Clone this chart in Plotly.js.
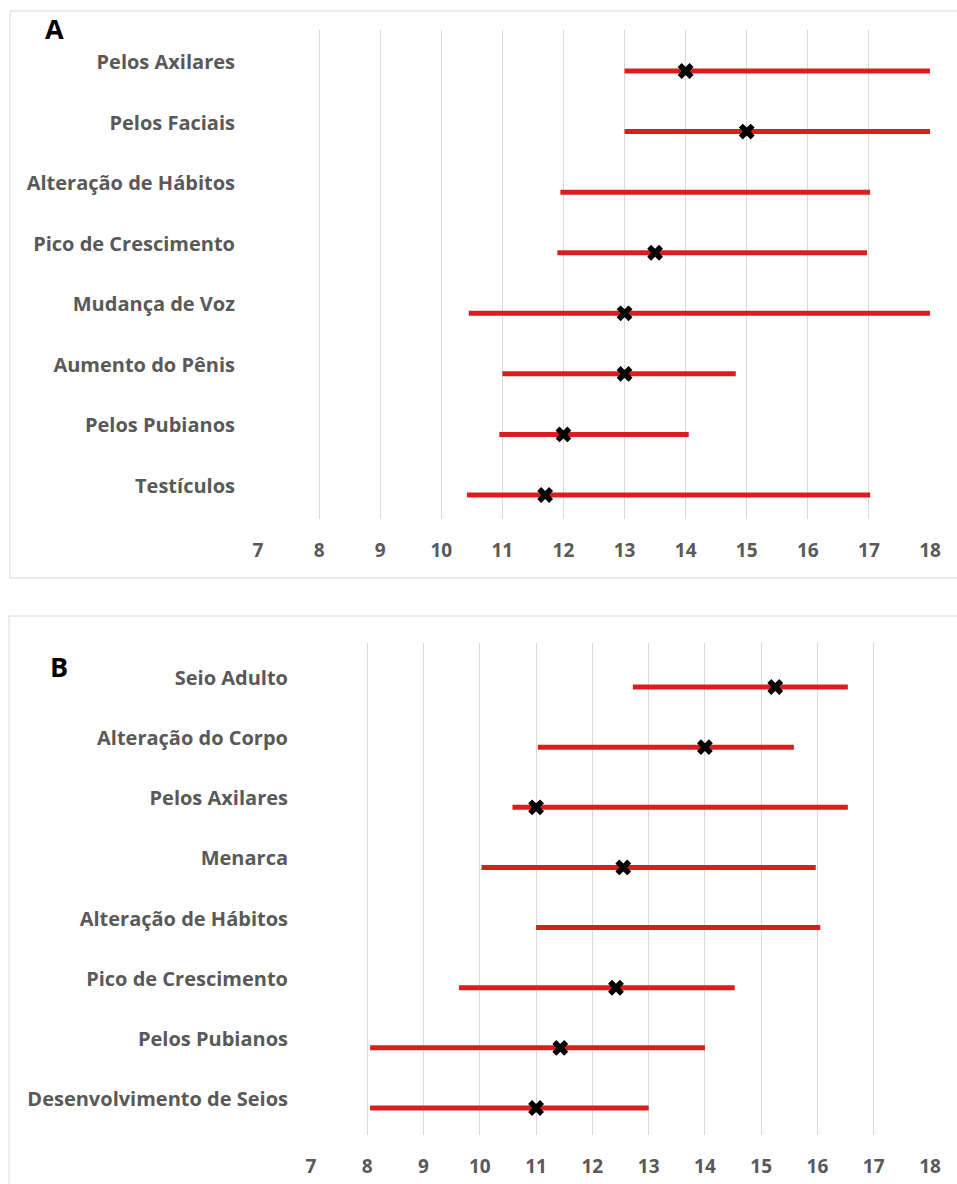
<!DOCTYPE html>
<html>
<head>
<meta charset="utf-8">
<script src="https://cdn.plot.ly/plotly-3.0.1.min.js"></script>
<style>html,body{margin:0;padding:0;background:#fff;}#chart{width:957px;height:1184px;}</style>
</head>
<body>
<div id="chart"></div>
<script>
// Panel A (boys)
var catsA = ['Pelos Axilares','Pelos Faciais','Alteração de Hábitos','Pico de Crescimento','Mudança de Voz','Aumento do Pênis','Pelos Pubianos','Testículos'];
var startA = [13.0, 13.0, 11.95, 11.9, 10.45, 11.0, 10.95, 10.42];
var endA   = [18.05, 18.05, 17.02, 16.97, 18.0, 14.82, 14.05, 17.02];
var markA  = [14.0, 15.0, null, 13.5, 13.0, 13.0, 12.0, 11.7];

// Panel B (girls)
var catsB = ['Seio Adulto','Alteração do Corpo','Pelos Axilares','Menarca','Alteração de Hábitos','Pico de Crescimento','Pelos Pubianos','Desenvolvimento de Seios'];
var startB = [12.72, 11.03, 10.58, 10.03, 11.0, 9.63, 8.05, 8.05];
var endB   = [16.54, 15.58, 16.54, 15.97, 16.05, 14.53, 14.0, 13.0];
var markB  = [15.25, 14.0, 11.0, 12.55, null, 12.42, 11.43, 11.0];

var ticksX = [7,8,9,10,11,12,13,14,15,16,17,18];

var RED = '#d81e1e';
var GRID = '#d9d9d9';
var LABEL = '#595959';
var FONT = 'Open Sans, Liberation Sans, sans-serif';

function segs(cats, s, e) {
  var xs = [], ys = [];
  for (var i = 0; i < cats.length; i++) {
    xs.push(s[i], e[i], null);
    ys.push(cats[i], cats[i], null);
  }
  return {x: xs, y: ys};
}
var sA = segs(catsA, startA, endA);
var sB = segs(catsB, startB, endB);

var traces = [
  {type:'scatter', mode:'lines', x:sA.x, y:sA.y, xaxis:'x', yaxis:'y',
   line:{color:RED, width:5}, hoverinfo:'skip', showlegend:false},
  {type:'scatter', mode:'markers', x:markA, y:catsA, xaxis:'x', yaxis:'y',
   marker:{symbol:'x', size:14, color:'#000', line:{width:0}}, showlegend:false},
  {type:'scatter', mode:'lines', x:sB.x, y:sB.y, xaxis:'x2', yaxis:'y2',
   line:{color:RED, width:5}, hoverinfo:'skip', showlegend:false},
  {type:'scatter', mode:'markers', x:markB, y:catsB, xaxis:'x2', yaxis:'y2',
   marker:{symbol:'x', size:14, color:'#000', line:{width:0}}, showlegend:false}
];

var W = 957, H = 1184;
function px(x){return x/W;}
function py(y){return 1 - y/H;}

var yFont = {family:FONT, size:20, color:LABEL, weight:'bold'};
var xFont = {family:FONT, size:19, color:LABEL, weight:'bold'};

var xCommon = {
  range:[7,18], tickvals:ticksX, ticktext:ticksX.map(String),
  showgrid:true, gridcolor:GRID, gridwidth:1, zeroline:false,
  showline:false, ticks:'', ticklabelstandoff:18, tickfont:xFont, fixedrange:true
};
var yCommon = {
  type:'category', showgrid:false, zeroline:false, showline:false, ticks:'',
  ticklabelstandoff:22, tickfont:yFont, ticklabelshift:9, fixedrange:true
};

var layout = {
  width:W, height:H,
  margin:{l:0, r:0, t:0, b:0},
  paper_bgcolor:'#fff', plot_bgcolor:'rgba(0,0,0,0)',
  showlegend:false,
  xaxis: Object.assign({}, xCommon, {domain:[px(258), px(930)], anchor:'y'}),
  yaxis: Object.assign({}, yCommon, {domain:[py(519), py(30)], anchor:'x',
          categoryorder:'array', categoryarray:catsA, range:[7.396, -0.677]}),
  xaxis2: Object.assign({}, xCommon, {domain:[px(311), px(930)], anchor:'y2'}),
  yaxis2: Object.assign({}, yCommon, {domain:[py(1135), py(643)], anchor:'x2',
          categoryorder:'array', categoryarray:catsB, range:[7.449, -0.732]}),
  shapes:[
    {type:'rect', xref:'paper', yref:'paper', x0:px(10), x1:1.01, y0:py(578), y1:py(11),
     line:{color:GRID, width:1}, fillcolor:'rgba(0,0,0,0)', layer:'below'},
    {type:'rect', xref:'paper', yref:'paper', x0:px(9), x1:1.01, y0:-0.01, y1:py(616),
     line:{color:GRID, width:1}, fillcolor:'rgba(0,0,0,0)', layer:'below'}
  ],
  annotations:[
    {text:'A', xref:'paper', yref:'paper', x:px(54), y:py(28), xanchor:'center', yanchor:'middle',
     showarrow:false, font:{family:FONT, size:27, color:'#000', weight:'bold'}},
    {text:'B', xref:'paper', yref:'paper', x:px(59), y:py(666), xanchor:'center', yanchor:'middle',
     showarrow:false, font:{family:FONT, size:27, color:'#000', weight:'bold'}}
  ]
};

Plotly.newPlot('chart', traces, layout, {displayModeBar:false, staticPlot:true});
</script>
</body>
</html>
